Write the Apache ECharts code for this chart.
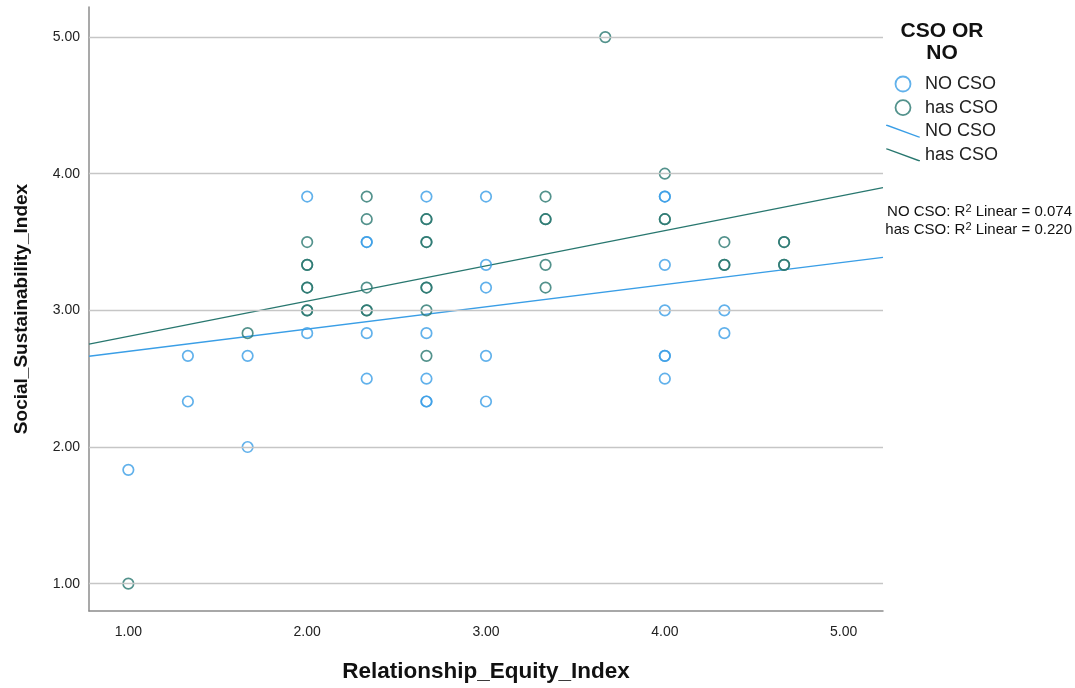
<!DOCTYPE html>
<html>
<head>
<meta charset="utf-8">
<script src="https://cdn.jsdelivr.net/npm/echarts@6/dist/echarts.min.js"></script>
<style>
  html, body { margin: 0; padding: 0; background: #fff; }
  #chart { width: 1075px; height: 688px; }
</style>
</head>
<body>
<div id="chart"></div>
<script>
// Respondents without a CSO: [Relationship_Equity_Index, Social_Sustainability_Index]
const noCso = [
  [1.000, 1.833],
  [1.333, 2.667], [1.333, 2.333],
  [1.667, 2.667], [1.667, 2.000],
  [2.000, 3.833], [2.000, 2.833],
  [2.333, 3.500], [2.333, 3.500], [2.333, 2.833], [2.333, 2.500],
  [2.667, 3.833], [2.667, 2.833], [2.667, 2.500], [2.667, 2.333], [2.667, 2.333],
  [3.000, 3.833], [3.000, 3.333], [3.000, 3.167], [3.000, 2.667], [3.000, 2.333],
  [4.000, 3.833], [4.000, 3.833], [4.000, 3.333], [4.000, 3.000], [4.000, 2.667], [4.000, 2.667], [4.000, 2.500],
  [4.333, 3.000], [4.333, 2.833]
];

// Respondents with a CSO
const hasCso = [
  [1.000, 1.000],
  [1.667, 2.833],
  [2.000, 3.500], [2.000, 3.333], [2.000, 3.333], [2.000, 3.167], [2.000, 3.167], [2.000, 3.000], [2.000, 3.000],
  [2.333, 3.833], [2.333, 3.667], [2.333, 3.167], [2.333, 3.000], [2.333, 3.000],
  [2.667, 3.667], [2.667, 3.667], [2.667, 3.500], [2.667, 3.500], [2.667, 3.167], [2.667, 3.167], [2.667, 3.000], [2.667, 2.667],
  [3.333, 3.833], [3.333, 3.667], [3.333, 3.667], [3.333, 3.333], [3.333, 3.167],
  [3.667, 5.000],
  [4.000, 4.000], [4.000, 3.667], [4.000, 3.667],
  [4.333, 3.500], [4.333, 3.333], [4.333, 3.333],
  [4.667, 3.500], [4.667, 3.500], [4.667, 3.333], [4.667, 3.333]
];

// Linear fit per group: [intercept, slope], and its R squared
const fitNoCso = [2.537, 0.163];
const fitHasCso = [2.551, 0.258];
const r2Labels = ['NO CSO', 'has CSO'];
const r2Values = ['0.074', '0.220'];

// Axis ranges and tick labels
const xRange = [0.78, 5.22];
const yRange = [0.8, 5.22];
const xTicks = [1, 2, 3, 4, 5];
const yTicks = [1, 2, 3, 4, 5];

const BLUE = '#3a9ee6';
const TEAL = '#28776f';
const FONT = '"Liberation Sans", Arial, sans-serif';

function fitLine(coef) {
  return xRange.map(x => [x, coef[0] + coef[1] * x]);
}

const chart = echarts.init(document.getElementById('chart'), null, { renderer: 'canvas' });

const scatterStyle = color => ({
  color: 'rgba(255,255,255,0)',
  borderColor: color,
  borderWidth: 1.7,
  opacity: 0.8
});

chart.setOption({
  animation: false,
  backgroundColor: '#fff',
  textStyle: { fontFamily: FONT },
  title: {
    text: 'CSO OR\nNO',
    left: 942,
    top: 20,
    padding: 0,
    textAlign: 'center',
    textStyle: { fontFamily: FONT, fontSize: 21, fontWeight: 'bold', color: '#111', lineHeight: 22 }
  },
  legend: {
    orient: 'vertical',
    left: 886,
    top: 75,
    padding: 0,
    itemWidth: 34,
    itemHeight: 15,
    itemGap: 5.6,
    selectedMode: false,
    formatter: name => name.replace(' fit', ''),
    textStyle: { fontFamily: FONT, fontSize: 18, color: '#222', lineHeight: 18 },
    data: [
      { name: 'NO CSO', icon: 'circle', itemStyle: { color: 'rgba(255,255,255,0)', borderColor: BLUE, borderWidth: 1.8 } },
      { name: 'has CSO', icon: 'circle', itemStyle: { color: 'rgba(255,255,255,0)', borderColor: TEAL, borderWidth: 1.8 } },
      { name: 'NO CSO fit', icon: 'path://M0,0 L1.6,0 L32,11.2 L32,12 L30.4,12 L0,0.8 Z', itemStyle: { color: BLUE } },
      { name: 'has CSO fit', icon: 'path://M0,0 L1.6,0 L32,11.2 L32,12 L30.4,12 L0,0.8 Z', itemStyle: { color: TEAL } }
    ]
  },
  graphic: r2Labels.map((g, i) => ({
    type: 'text',
    right: 3,
    top: 203 + i * 18,
    style: {
      text: g + ': R{sup|2} Linear = ' + r2Values[i],
      font: '15px ' + FONT,
      fill: '#111',
      rich: { sup: { fontSize: 11, verticalAlign: 'top', padding: [0, 0, 7, 0], fill: '#111' } }
    }
  })),
  grid: { left: 89, right: 192, top: 7, bottom: 75, containLabel: false },
  xAxis: {
    type: 'value',
    min: xRange[0],
    max: xRange[1],
    name: 'Relationship_Equity_Index',
    nameLocation: 'middle',
    nameGap: 49,
    nameTextStyle: { fontFamily: FONT, fontSize: 22.5, fontWeight: 'bold', color: '#111' },
    axisLine: { show: true, lineStyle: { color: '#8c8c8c', width: 1.5 } },
    axisTick: { show: false },
    splitLine: { show: false },
    axisLabel: {
      customValues: xTicks,
      formatter: v => v.toFixed(2),
      margin: 14,
      fontFamily: FONT,
      fontSize: 14,
      color: '#222'
    }
  },
  yAxis: {
    type: 'value',
    min: yRange[0],
    max: yRange[1],
    name: 'Social_Sustainability_Index',
    nameLocation: 'middle',
    nameGap: 58,
    nameRotate: 90,
    nameTextStyle: { fontFamily: FONT, fontSize: 19, fontWeight: 'bold', color: '#111' },
    axisLine: { show: true, lineStyle: { color: '#8c8c8c', width: 1.5 } },
    axisTick: { show: false },
    splitLine: { show: false },
    axisLabel: {
      customValues: yTicks,
      formatter: v => v.toFixed(2),
      margin: 9,
      fontFamily: FONT,
      fontSize: 14,
      color: '#222'
    }
  },
  series: [
    {
      name: 'gridlines',
      type: 'line',
      data: [],
      z: 1,
      silent: true,
      markLine: {
        silent: true,
        symbol: 'none',
        label: { show: false },
        lineStyle: { color: '#c6c6c6', width: 1.4, type: 'solid' },
        data: yTicks.map(v => ({ yAxis: v }))
      }
    },
    {
      name: 'NO CSO fit',
      type: 'line',
      data: fitLine(fitNoCso),
      showSymbol: false,
      symbol: 'none',
      z: 2,
      lineStyle: { color: BLUE, width: 1.3 },
      itemStyle: { color: BLUE }
    },
    {
      name: 'has CSO fit',
      type: 'line',
      data: fitLine(fitHasCso),
      showSymbol: false,
      symbol: 'none',
      z: 2,
      lineStyle: { color: TEAL, width: 1.3 },
      itemStyle: { color: TEAL }
    },
    {
      name: 'NO CSO',
      type: 'scatter',
      data: noCso,
      symbol: 'circle',
      symbolSize: 10.5,
      z: 3,
      itemStyle: scatterStyle(BLUE)
    },
    {
      name: 'has CSO',
      type: 'scatter',
      data: hasCso,
      symbol: 'circle',
      symbolSize: 10.5,
      z: 3,
      itemStyle: scatterStyle(TEAL)
    }
  ]
});
</script>
</body>
</html>
